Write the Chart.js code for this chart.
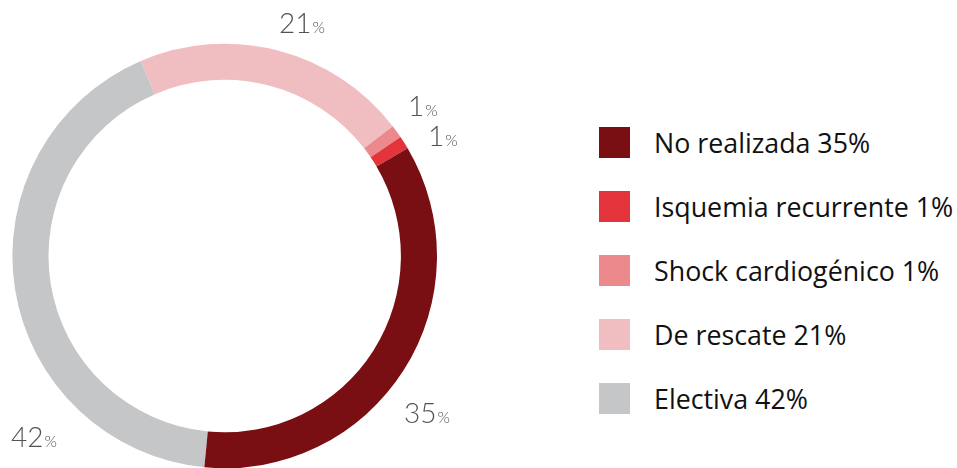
<!DOCTYPE html>
<html>
<head>
<meta charset="utf-8">
<script src="https://cdn.jsdelivr.net/npm/chart.js@4/dist/chart.umd.min.js"></script>
<style>
  html, body { margin:0; padding:0; background:#fff; width:957px; height:468px; overflow:hidden; position:relative; }
  #wrap { position:absolute; left:0; top:0; width:460px; height:520px; }
  #legend { position:absolute; left:599px; top:127px; margin:0; padding:0; list-style:none;
            font-family:"Open Sans", sans-serif; font-size:26.8px; color:#111; }
  #legend li { display:flex; align-items:center; height:31px; margin-bottom:33px; white-space:nowrap; }
  #legend .sw { width:31px; height:31px; margin-right:24px; flex:none; }
</style>
</head>
<body>
<div id="wrap"><canvas id="donut"></canvas></div>
<ul id="legend"></ul>
<script>
// categories in legend order
const categories = ['No realizada', 'Isquemia recurrente', 'Shock cardiogénico', 'De rescate', 'Electiva'];
const values = [35, 1, 1, 21, 42];
const colors = ['#7a0f13', '#e3333b', '#eb898d', '#f0bec1', '#c5c6c8'];

// label anchors (text left / baseline) relative to the ring centre, in outer-radius units
const labelOffsets = [[0.845, 0.787], [0.958, -0.518], [0.863, -0.659], [0.256, -1.050], [-1.007, 0.900]];

// html legend
const legend = document.getElementById('legend');
categories.forEach((c, i) => {
  const li = document.createElement('li');
  li.innerHTML = `<span class="sw" style="background:${colors[i]}"></span><span>${c} ${values[i]}%</span>`;
  legend.appendChild(li);
});

// the ring runs counter-clockwise in legend order, so feed it reversed
const rev = a => a.slice().reverse();

const pctLabels = {
  id: 'pctLabels',
  afterDatasetsDraw(chart){
    const arc = chart.getDatasetMeta(0).data[0];
    if(!arc) return;
    const { x, y, outerRadius } = arc.getProps(['x', 'y', 'outerRadius'], true);
    const ctx = chart.ctx;
    ctx.save();
    ctx.fillStyle = '#525355';
    ctx.textBaseline = 'alphabetic';
    ctx.textAlign = 'left';
    values.forEach((v, i) => {
      const lx = x + labelOffsets[i][0] * outerRadius;
      const ly = y + labelOffsets[i][1] * outerRadius;
      ctx.font = '300 28px Lato';
      const s = String(v);
      ctx.fillText(s, lx, ly);
      const w = ctx.measureText(s).width;
      ctx.font = '300 16px Lato';
      ctx.fillText('%', lx + w + 1, ly);
    });
    ctx.restore();
  }
};

new Chart(document.getElementById('donut'), {
  type: 'doughnut',
  data: {
    labels: rev(categories),
    datasets: [{
      data: rev(values),
      backgroundColor: rev(colors),
      borderWidth: 0,
      hoverOffset: 0
    }]
  },
  options: {
    responsive: true,
    maintainAspectRatio: false,
    animation: false,
    rotation: 185.5,
    cutout: '83%',
    layout: { padding: { left: 12.4, top: 43.7, right: 23, bottom: 51.7 } },
    plugins: { legend: { display: false }, tooltip: { enabled: false } }
  },
  plugins: [pctLabels]
});
</script>
</body>
</html>
